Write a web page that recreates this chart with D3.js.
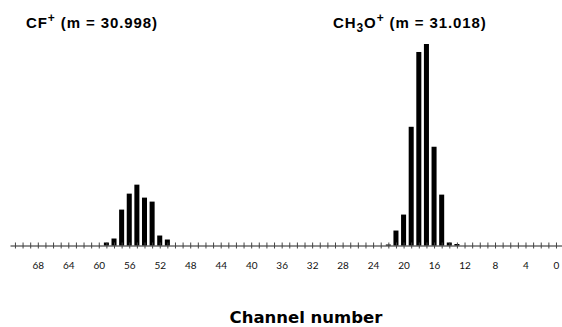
<!DOCTYPE html>
<html>
<head>
<meta charset="utf-8">
<script src="https://cdn.jsdelivr.net/npm/d3@7"></script>
<style>
  body { margin: 0; background: #fff; }
  .title { font-family: "Liberation Sans", Arial, sans-serif; font-weight: bold; font-size: 15px; letter-spacing: 0.9px; }
  .ticklab text { font-family: "Lato", "DejaVu Sans", sans-serif; font-size: 10px; }
  .xlabel { font-family: "DejaVu Sans", sans-serif; font-weight: bold; font-size: 16.5px; }
</style>
</head>
<body>
<div id="chart"></div>
<script>
// channel data (channels count down to the right)
var cfChannels = [59, 58, 57, 56, 55, 54, 53, 52, 51];
var cfCounts = [3, 7, 36, 52, 61, 48, 44, 10, 6];
var ch3oChannels = [22, 21, 20, 19, 18, 17, 16, 15, 14, 13];
var ch3oCounts = [1, 15, 31, 119, 194, 202, 99, 51, 3, 1.5];
var labelTicks = [68, 64, 60, 56, 52, 48, 44, 40, 36, 32, 28, 24, 20, 16, 12, 8, 4, 0];
var minorTicks = d3.range(0, 72, 1);

var svgWidth = 562;
var svgHeight = 327;

var svg = d3.select("#chart")
  .append("svg")
  .attr("width", svgWidth)
  .attr("height", svgHeight);

// reversed channel axis
var x = d3.scaleLinear()
  .domain([71.65, -0.79])
  .range([10, 562]);

var y = d3.scaleLinear()
  .domain([0, 202])
  .range([245.5, 44]);

var barW = (x(0) - x(1)) * 0.66;

// merge both peaks into one list of bars
var bars = [];
cfChannels.forEach((c, i) => bars.push({ ch: c, v: cfCounts[i] }));
ch3oChannels.forEach((c, i) => bars.push({ ch: c, v: ch3oCounts[i] }));

svg.selectAll("rect.bar")
  .data(bars)
  .enter()
  .append("rect")
  .attr("class", "bar")
  .attr("x", d => x(d.ch) - barW / 2)
  .attr("y", d => y(d.v))
  .attr("width", barW)
  .attr("height", d => y(0) - y(d.v))
  .attr("fill", "#000");

// axis line with little cross ticks on every channel
var minorAxis = svg.append("g")
  .attr("transform", `translate(0, ${y(0)})`)
  .call(d3.axisBottom(x).tickValues(minorTicks).tickSize(3).tickSizeOuter(0).tickFormat(""));

minorAxis.select(".domain").attr("stroke", "#222").attr("stroke-width", 1);
minorAxis.selectAll(".tick line").attr("y1", -3).attr("stroke", "#444");

// channel number labels
var labelAxis = svg.append("g")
  .attr("class", "ticklab")
  .attr("transform", `translate(0, ${y(0)})`)
  .call(d3.axisBottom(x).tickValues(labelTicks).tickSize(0).tickPadding(16));

labelAxis.select(".domain").remove();
labelAxis.selectAll("text").attr("fill", "#111");

// peak titles
var t1 = svg.append("text").attr("class", "title").attr("x", 26).attr("y", 28);
t1.append("tspan").text("CF");
t1.append("tspan").attr("dy", -6).attr("font-size", "12px").text("+");
t1.append("tspan").attr("dy", 6).text(" (m = 30.998)");

var t2 = svg.append("text").attr("class", "title").attr("x", 333).attr("y", 28);
t2.append("tspan").text("CH");
t2.append("tspan").attr("dy", 4).attr("font-size", "12px").text("3");
t2.append("tspan").attr("dy", -4).text("O");
t2.append("tspan").attr("dy", -6).attr("font-size", "12px").text("+");
t2.append("tspan").attr("dy", 6).text(" (m = 31.018)");

// x axis title
svg.append("text")
  .attr("class", "xlabel")
  .attr("x", 306)
  .attr("y", 323)
  .attr("text-anchor", "middle")
  .text("Channel number");
</script>
</body>
</html>
